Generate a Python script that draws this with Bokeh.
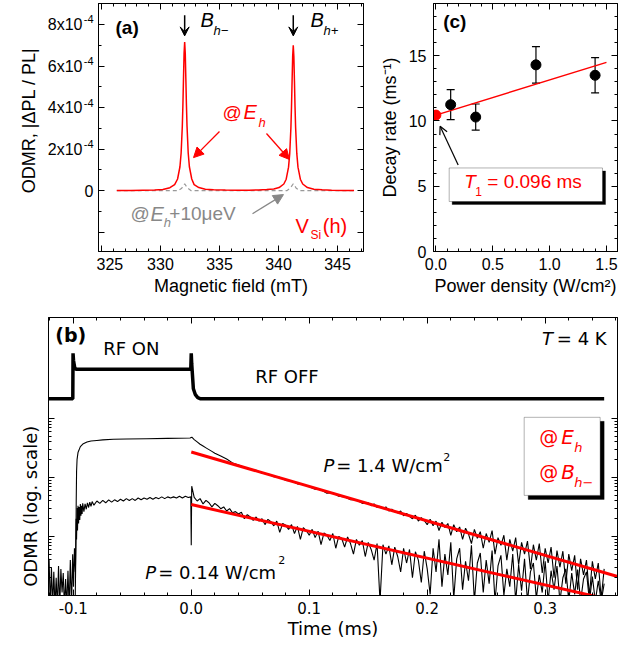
import numpy as np
from bokeh.plotting import figure
from bokeh.layouts import column, row
from bokeh.models import (Range1d, LinearAxis, FixedTicker, Label, Arrow, NormalHead,
                          OpenHead, VeeHead, TeeHead, Whisker, ColumnDataSource,
                          BoxAnnotation, PrintfTickFormatter, CustomJSTickFormatter)
from bokeh.embed import file_html
from bokeh.resources import INLINE

# ---------------- data: panel (a) ODMR spectrum (units of 1e-4) ----------------
field_mT = [326.3, 327.5, 328.5, 329.5, 330.2, 330.8, 331.2, 331.45, 331.65, 331.75, 331.85,
            331.9, 331.95, 332.0, 332.05, 332.1, 332.15, 332.2, 332.25, 332.35, 332.45, 332.65,
            332.85, 333.25, 333.8, 334.5, 335.5, 336.5, 337.5, 338.3, 339.0, 339.6, 340.05,
            340.45, 340.65, 340.85, 340.95, 341.05, 341.1, 341.15, 341.2, 341.25, 341.3, 341.35,
            341.4, 341.45, 341.55, 341.65, 341.85, 342.05, 342.45, 343.0, 343.7, 344.5, 345.5, 346.4]
odmr_Eh = [0.01, 0.01, 0.02, 0.03, 0.06, 0.14, 0.29, 0.56, 1.15, 1.81, 3.10,
           4.12, 5.39, 6.61, 7.15, 6.61, 5.39, 4.12, 3.10, 1.81, 1.15, 0.56,
           0.29, 0.15, 0.07, 0.04, 0.025, 0.02, 0.02, 0.03, 0.05, 0.08, 0.15,
           0.32, 0.55, 1.13, 1.78, 3.03, 4.03, 5.28, 6.47, 7.00, 6.47, 5.28,
           4.03, 3.03, 1.78, 1.13, 0.55, 0.32, 0.15, 0.07, 0.04, 0.02, 0.01, 0.01]
field_off_mT = [326.3, 331.5, 331.8, 332.05, 332.3, 332.6, 340.7, 341.0, 341.25, 341.5, 341.8, 346.4]
odmr_Eh10 = [0.0, 0.0, 0.12, 0.33, 0.12, 0.0, 0.0, 0.12, 0.33, 0.12, 0.0, 0.0]
a_ytick_vals = [0, 2, 4, 6, 8]
resonances_mT = [332.05, 341.25]

# ---------------- data: panel (c) decay rate vs power ----------------
power = [0.13, 0.35, 0.88, 1.40]
rate = [11.25, 10.3, 14.3, 13.5]
rate_err = [1.15, 1.0, 1.4, 1.35]
power0 = [0.0]
rate0 = [10.45]
fit_power = [0.0, 1.5]
fit_rate = [10.45, 14.49]

# ---------------- data: panel (b) time traces (log10 of ODMR, arb.) ----------------
rf_t = [-0.121, -0.1004, -0.1002, -0.0998, -0.0988, -0.0978, -0.05, -0.0004, 0.0, 0.0004,
        0.0018, 0.0035, 0.0055, 0.008, 0.35]
rf_y = [3.33, 3.33, 4.10, 3.98, 3.86, 3.83, 3.83, 3.83, 4.10, 3.92, 3.50, 3.40, 3.35, 3.33, 3.33]

hi_t = [-0.0985, -0.0978, -0.0975, -0.0972, -0.0968, -0.096, -0.094, -0.0915, -0.0884, -0.085,
        -0.08, -0.075, -0.066, -0.055, -0.0375, -0.02, -0.001, 0.0005, 0.0025, 0.005, 0.0075,
        0.010, 0.0125, 0.015, 0.0175, 0.020, 0.025, 0.030, 0.035, 0.040, 0.045, 0.050,
        0.055, 0.060, 0.065, 0.070, 0.075, 0.080, 0.085, 0.090, 0.095, 0.100, 0.105, 0.110,
        0.115, 0.120, 0.125, 0.130, 0.135, 0.140, 0.145, 0.150]
hi_y = [-0.3, 0.8, 1.6, 2.1, 2.3, 2.42, 2.52, 2.57, 2.60, 2.615, 2.625, 2.635, 2.645, 2.65,
        2.655, 2.66, 2.667, 2.68, 2.64, 2.60, 2.56, 2.53, 2.50, 2.47, 2.44, 2.41, 2.36, 2.31,
        2.245, 2.21, 2.17, 2.14, 2.12, 2.07, 2.06, 2.01, 2.00, 1.95, 1.94, 1.89, 1.88, 1.84,
        1.80, 1.79, 1.73, 1.74, 1.68, 1.67, 1.62, 1.62, 1.56, 1.57]
hi_tail_start = 0.1525
hi_tail_step = 0.0025
hi_tail_y = [1.52, 1.55, 1.49, 1.51, 1.47, 1.50, 1.43, 1.46, 1.42, 1.40, 1.43, 1.35, 1.39, 1.34,
             1.30, 1.36, 1.26, 1.32, 1.27, 1.20, 1.29, 1.18, 1.26, 1.10, 1.24, 1.15, 1.22, 1.02,
             1.20, 1.08, 1.16, 0.95, 1.14, 1.04, 0.88, 1.12, 0.97, 1.08, 0.80, 1.05, 0.90, 1.10,
             0.70, 0.98, 0.85, 1.02, 0.60, 0.95, 0.75, 0.98, 0.52, 0.90, 0.70, 0.92, 0.45, 0.86,
             0.60, 0.88, 0.38, 0.80, 0.55, 0.82, 0.30, 0.76, 0.48, 0.75, 0.20, 0.70, 0.42, 0.68,
             0.10, 0.62, 0.35, 0.60, 0.00, 0.58, 0.28, 0.55, -0.05, 0.45]

lo_pre_t = [-0.1205, -0.1195, -0.1185, -0.1175, -0.1165, -0.1155, -0.1145, -0.1135, -0.1125,
            -0.1115, -0.1105, -0.1095, -0.1085, -0.1075, -0.1065, -0.1055, -0.1045, -0.1035,
            -0.1025, -0.1015, -0.1005, -0.0998, -0.0990, -0.0982, -0.0976, -0.0972, -0.0968,
            -0.0964, -0.0960, -0.0955, -0.0950, -0.0945, -0.0940, -0.0935, -0.0930, -0.0925,
            -0.0920, -0.0910, -0.0900, -0.0890, -0.0880, -0.0870, -0.0860, -0.0850, -0.0840,
            -0.0825, -0.0800, -0.0775, -0.0750, -0.0725, -0.0700, -0.0675, -0.0650, -0.0625,
            -0.0600, -0.0575, -0.0550, -0.0525, -0.0500, -0.0475, -0.0450, -0.0425, -0.0400,
            -0.0375, -0.0350, -0.0325, -0.0300, -0.0275, -0.0250, -0.0225, -0.0200, -0.0175,
            -0.0150, -0.0125, -0.0100, -0.0075, -0.0050, -0.0025, -0.0004, 0.0, 0.0004]
lo_pre_y = [0.62, -0.2, 0.48, -0.2, 0.40, -0.2, 0.30, -0.2, 0.50, -0.2, 0.45, 0.05, 0.38, -0.2,
            0.28, -0.2, 0.42, -0.2, 0.60, -0.2, 0.70, 0.15, 0.80, 0.40, 1.30, 0.95, 1.48, 1.10,
            1.52, 1.22, 1.50, 1.28, 1.55, 1.35, 1.52, 1.38, 1.56, 1.42, 1.55, 1.46, 1.57, 1.49,
            1.58, 1.51, 1.59, 1.53, 1.60, 1.56, 1.61, 1.57, 1.62, 1.58, 1.62, 1.59, 1.63, 1.60,
            1.64, 1.61, 1.64, 1.61, 1.65, 1.62, 1.65, 1.63, 1.66, 1.63, 1.66, 1.64, 1.67, 1.64,
            1.67, 1.65, 1.67, 1.65, 1.68, 1.65, 1.68, 1.66, 1.67, 0.85, 1.85]
lo_tail_start = 0.0025
lo_tail_step = 0.0025
lo_tail_y = [1.66, 1.60, 1.64, 1.55, 1.61, 1.57, 1.50, 1.56, 1.52, 1.47, 1.50, 1.43, 1.47, 1.40,
             1.42, 1.38, 1.41, 1.30, 1.37, 1.33, 1.27, 1.33, 1.26, 1.30, 1.20, 1.29, 1.25, 1.18,
             1.26, 1.07, 1.22, 1.19, 1.12, 1.20, 1.05, 1.17, 0.95, 1.15, 1.10, 1.02, 1.12, 0.98,
             1.09, 0.86, 1.06, 1.02, 0.93, 1.05, 0.80, 1.00, 0.97, 0.82, 0.99, 0.88, 0.70, 0.95,
             0.85, 0.93, 0.66, 0.90, 0.78, 0.60, 0.88, -0.10, 0.86, 0.70, 0.84, 0.52, 0.82, 0.66,
             0.40, 0.80, 0.55, 0.78, 0.30, 0.74, 0.60, 0.22, 0.75, 0.45, 0.02, 0.80, 0.40, 0.95,
             0.15, 0.70, 0.35, 0.90, -0.05, 0.62, 0.80, 0.10, 0.58, 0.25, 0.85, -0.10, 0.55, 0.72,
             0.05, 0.60, 0.20, 0.76, -0.10, 0.50, 0.68, 0.00, 0.45, 0.15, 0.70, -0.10, 0.52, 0.08,
             0.62, -0.10, 0.40, 0.55, -0.05, 0.35, 0.05, 0.58, -0.10, 0.42, 0.10, 0.50, -0.10,
             0.30, 0.45, -0.10, 0.38, 0.02, 0.44, -0.10, 0.28, 0.40, -0.10, 0.32, -0.10, 0.25,
             -0.10, 0.20]
fit_t = [0.0, 0.3613]
fit_hi = [2.43, 0.322]
fit_lo = [1.54, -0.10]

FA = "Liberation Sans"
FB = "DejaVu Sans"
EMPTY = CustomJSTickFormatter(code="return ''")


def frame_style(p):
    p.xgrid.visible = False
    p.ygrid.visible = False
    p.outline_line_color = "black"
    p.outline_line_width = 1
    p.background_fill_color = "white"
    p.border_fill_color = "white"


def style_axis(ax, font, tsize, maj=6, mnr=3, labels=True):
    ax.major_tick_in = maj
    ax.major_tick_out = 0
    ax.minor_tick_in = mnr
    ax.minor_tick_out = 0
    ax.axis_line_color = "black"
    ax.major_tick_line_color = "black"
    ax.minor_tick_line_color = "black"
    ax.major_label_text_font = font
    ax.major_label_text_font_size = tsize
    ax.major_label_text_color = "black"
    ax.axis_label_text_font = font
    ax.axis_label_text_font_style = "normal"
    ax.axis_label_text_color = "black"
    if not labels:
        ax.formatter = CustomJSTickFormatter(code="return ''")
        ax.major_label_text_font_size = "0px"
        ax.major_label_standoff = 0


def mirror(p, xt, xm, yt, ym, font):
    top = LinearAxis(ticker=FixedTicker(ticks=xt, minor_ticks=xm))
    style_axis(top, font, "0px", labels=False)
    p.add_layout(top, "above")
    right = LinearAxis(ticker=FixedTicker(ticks=yt, minor_ticks=ym))
    style_axis(right, font, "0px", labels=False)
    p.add_layout(right, "right")


def lab(p, x, y, text, size, font, color="black", style="normal", align="left",
        baseline="middle", angle=0.0, xo=0, yo=0):
    p.add_layout(Label(x=x, y=y, text=text, text_font=font, text_font_size=f"{size}px",
                       text_color=color, text_font_style=style, text_align=align,
                       text_baseline=baseline, angle=angle, x_offset=xo, y_offset=yo))


def side(width, height, yr, top, bottom):
    s = figure(width=width, height=height, x_range=Range1d(0, width), y_range=Range1d(*yr),
               min_border_left=0, min_border_right=0, min_border_top=top, min_border_bottom=bottom,
               output_backend="svg", toolbar_location=None)
    s.axis.visible = False
    s.xgrid.visible = False
    s.ygrid.visible = False
    s.outline_line_color = None
    return s


TOP_H = 305
A_YR = (-2.93, 9.01)

# =============================== panel (a) ===============================
pa_lab = side(96, TOP_H, A_YR, 3, 54)
pa = figure(width=279, height=TOP_H, x_range=Range1d(324.75, 347.2), y_range=Range1d(*A_YR),
            min_border_left=2, min_border_right=12, min_border_top=3, min_border_bottom=54,
            output_backend="svg", toolbar_location=None)
frame_style(pa)
ax_xt = [325, 330, 335, 340, 345]
ax_xm = list(range(325, 348))
ax_yt = [-2, 0, 2, 4, 6, 8]
ax_ym = list(range(-2, 10))
pa.xaxis[0].ticker = FixedTicker(ticks=ax_xt, minor_ticks=ax_xm)
pa.yaxis[0].ticker = FixedTicker(ticks=ax_yt, minor_ticks=ax_ym)
style_axis(pa.xaxis[0], FA, "16px")
pa.xaxis[0].major_label_standoff = 6
pa.xaxis[0].axis_label = "Magnetic field (mT)"
pa.xaxis[0].axis_label_text_font_size = "18px"
pa.xaxis[0].axis_label_standoff = 3
style_axis(pa.yaxis[0], FA, "0px", labels=False)
mirror(pa, ax_xt, ax_xm, ax_yt, ax_ym, FA)

pa.line(field_off_mT, odmr_Eh10, line_color="#999999", line_width=1.2, line_dash="4 3")
pa.line(field_mT, odmr_Eh, line_color="#ff0000", line_width=1.5)

for v in a_ytick_vals:
    if v == 0:
        lab(pa_lab, 93, v, "0", 16, FA, align="right")
    else:
        lab(pa_lab, 82, v, f"{v}x10", 16, FA, align="right")
        lab(pa_lab, 93, v, "-4", 11, FA, align="right", yo=5)
lab(pa_lab, 28, 3.38, "ODMR, |ΔPL / PL|", 18, FA, align="center", angle=np.pi / 2)

for xr in resonances_mT:
    pa.add_layout(Arrow(x_start=xr, y_start=8.45, x_end=xr, y_end=7.45,
                        end=VeeHead(size=9, fill_color="black", line_color="black"),
                        line_color="black", line_width=1.5))
lab(pa, 326.19, 7.87, "(a)", 19, FA, style="bold")
lab(pa, 333.39, 8.21, "B", 20, FA, style="italic")
lab(pa, 334.49, 7.70, "h−", 13, FA, style="italic")
lab(pa, 342.71, 8.21, "B", 20, FA, style="italic")
lab(pa, 343.81, 7.70, "h+", 13, FA, style="italic")

pa.add_layout(Arrow(x_start=335.0, y_start=2.85, x_end=332.8, y_end=1.59,
                    end=NormalHead(size=10, fill_color="#ff0000", line_color="#ff0000"),
                    line_color="#ff0000", line_width=1.3))
pa.add_layout(Arrow(x_start=338.98, y_start=2.75, x_end=340.93, y_end=1.50,
                    end=NormalHead(size=10, fill_color="#ff0000", line_color="#ff0000"),
                    line_color="#ff0000", line_width=1.3))
pa.add_layout(Arrow(x_start=337.8, y_start=-1.11, x_end=340.42, y_end=-0.19,
                    end=NormalHead(size=10, fill_color="#888888", line_color="#888888"),
                    line_color="#888888", line_width=1.3))
lab(pa, 335.25, 3.77, "@", 19, FA, color="#ff0000")
lab(pa, 337.03, 3.77, "E", 20, FA, color="#ff0000", style="italic")
lab(pa, 338.3, 3.30, "h", 13, FA, color="#ff0000", style="italic")
lab(pa, 327.46, -1.11, "@", 19, FA, color="#888888")
lab(pa, 329.15, -1.11, "E", 20, FA, color="#888888", style="italic")
lab(pa, 330.28, -1.53, "h", 13, FA, color="#888888", style="italic")
lab(pa, 330.75, -1.11, "+10μeV", 19, FA, color="#888888")
lab(pa, 341.44, -1.69, "V", 20, FA, color="#ff0000")
lab(pa, 342.71, -2.12, "Si", 12, FA, color="#ff0000")
lab(pa, 343.75, -1.69, "(h)", 20, FA, color="#ff0000")

# =============================== panel (c) ===============================
pc = figure(width=258, height=TOP_H, x_range=Range1d(-0.021, 1.597), y_range=Range1d(0, 19.0),
            min_border_left=58, min_border_right=16, min_border_top=3, min_border_bottom=54,
            output_backend="svg", toolbar_location=None)
frame_style(pc)
c_xt = [0.0, 0.5, 1.0, 1.5]
c_xm = [round(0.1 * i, 1) for i in range(0, 16)]
c_yt = [0, 5, 10, 15]
c_ym = list(range(0, 19))
pc.xaxis[0].ticker = FixedTicker(ticks=c_xt, minor_ticks=c_xm)
pc.yaxis[0].ticker = FixedTicker(ticks=c_yt, minor_ticks=c_ym)
style_axis(pc.xaxis[0], FA, "16px")
pc.xaxis[0].formatter = PrintfTickFormatter(format="%.1f")
pc.xaxis[0].major_label_standoff = 6
pc.xaxis[0].axis_label = "Power density (W/cm²)"
pc.xaxis[0].axis_label_text_font_size = "18px"
pc.xaxis[0].axis_label_standoff = 3
style_axis(pc.yaxis[0], FA, "16px")
pc.yaxis[0].major_label_standoff = 7
pc.yaxis[0].axis_label = "Decay rate (ms⁻¹)"
pc.yaxis[0].axis_label_text_font_size = "18px"
pc.yaxis[0].axis_label_standoff = 6
mirror(pc, c_xt, c_xm, c_yt, c_ym, FA)

pc.line(fit_power, fit_rate, line_color="#ff0000", line_width=1.5)
src_c = ColumnDataSource(dict(x=power, y=rate,
                              lo=[r - e for r, e in zip(rate, rate_err)],
                              hi=[r + e for r, e in zip(rate, rate_err)]))
pc.add_layout(Whisker(base="x", upper="hi", lower="lo", source=src_c, line_color="black",
                      line_width=1.2,
                      upper_head=TeeHead(size=8, line_color="black", line_width=1.2),
                      lower_head=TeeHead(size=8, line_color="black", line_width=1.2)))
pc.scatter(power, rate, size=10, color="black")
pc.scatter(power0, rate0, size=10, color="#ff0000")

pc.add_layout(BoxAnnotation(left=0.143, right=1.492, top=6.17, bottom=3.60, fill_color="black",
                            fill_alpha=1, line_color="black"))
pc.add_layout(BoxAnnotation(left=0.117, right=1.465, top=6.40, bottom=3.83, fill_color="white",
                            fill_alpha=1, line_color="black", line_width=1))
pc.add_layout(Arrow(x_start=0.196, y_start=6.63, x_end=0.037, y_end=9.6,
                    end=OpenHead(size=8, line_color="black", line_width=1.2),
                    line_color="black", line_width=1.2))
lab(pc, 0.064, 17.65, "(c)", 19, FA, style="bold")
lab(pc, 0.249, 5.37, "T", 19, FA, color="#ff0000", style="italic")
lab(pc, 0.346, 4.57, "1", 12, FA, color="#ff0000")
lab(pc, 0.452, 5.37, "= 0.096 ms", 19, FA, color="#ff0000")

# =============================== panel (b) ===============================
B_H = 340
B_YR = (0, 4.707)
pb_lab = side(46, B_H, B_YR, 12, 50)
pb = figure(width=587, height=B_H, x_range=Range1d(-0.121, 0.3613), y_range=Range1d(*B_YR),
            min_border_left=2, min_border_right=16, min_border_top=12, min_border_bottom=50,
            output_backend="svg", toolbar_location=None)
frame_style(pb)
b_xt = [-0.1, 0.0, 0.1, 0.2, 0.3]
b_xm = [round(-0.12 + 0.02 * i, 2) for i in range(0, 25)]
b_yt = [0, 1, 2, 3]
b_ym = [round(d + np.log10(k), 4) for d in range(0, 3) for k in range(2, 10)]
pb.xaxis[0].ticker = FixedTicker(ticks=b_xt, minor_ticks=b_xm)
pb.yaxis[0].ticker = FixedTicker(ticks=b_yt, minor_ticks=b_ym)
style_axis(pb.xaxis[0], FB, "15px")
pb.xaxis[0].formatter = PrintfTickFormatter(format="%.1f")
pb.xaxis[0].major_label_standoff = 6
pb.xaxis[0].axis_label = "Time (ms)"
pb.xaxis[0].axis_label_text_font_size = "18px"
pb.xaxis[0].axis_label_standoff = 1
style_axis(pb.yaxis[0], FB, "0px", labels=False)
mirror(pb, b_xt, b_xm, b_yt, b_ym, FB)

lo_t = lo_pre_t + [lo_tail_start + lo_tail_step * i for i in range(len(lo_tail_y))]
lo_y = lo_pre_y + lo_tail_y
hi_all_t = hi_t + [hi_tail_start + hi_tail_step * i for i in range(len(hi_tail_y))]
hi_all_y = hi_y + hi_tail_y

pb.line(rf_t, rf_y, line_color="black", line_width=3.5)
pb.line(lo_t, lo_y, line_color="black", line_width=1.1)
pb.line(hi_all_t, hi_all_y, line_color="black", line_width=1.1)
pb.line(fit_t, fit_hi, line_color="#ff0000", line_width=3)
pb.line(fit_t, fit_lo, line_color="#ff0000", line_width=3)

lab(pb_lab, 30, 1.51, "ODMR (log. scale)", 18, FB, align="center", angle=np.pi / 2)
lab(pb, -0.1153, 4.407, "(b)", 19, FB, style="bold")
lab(pb, -0.0746, 4.181, "RF ON", 18, FB)
lab(pb, 0.0542, 3.700, "RF OFF", 18, FB)
lab(pb, 0.2972, 4.351, "T", 18, FB, style="italic")
lab(pb, 0.3099, 4.351, "= 4 K", 18, FB)
lab(pb, 0.1121, 2.203, "P", 18, FB, style="italic")
lab(pb, 0.1229, 2.203, "= 1.4 W/cm", 18, FB)
lab(pb, 0.2136, 2.347, "2", 11, FB)
lab(pb, -0.039, 0.395, "P", 18, FB, style="italic")
lab(pb, -0.028, 0.395, "= 0.14 W/cm", 18, FB)
lab(pb, 0.0737, 0.602, "2", 11, FB)

pb.add_layout(BoxAnnotation(left=0.2856, right=0.3500, top=2.949, bottom=1.627, fill_color="black",
                            fill_alpha=1, line_color="black"))
pb.add_layout(BoxAnnotation(left=0.2822, right=0.3466, top=3.017, bottom=1.695, fill_color="white",
                            fill_alpha=1, line_color="black", line_width=1))
lab(pb, 0.2949, 2.678, "@", 19, FB, color="#ff0000")
lab(pb, 0.3136, 2.678, "E", 20, FB, color="#ff0000", style="italic")
lab(pb, 0.3246, 2.50, "h", 13, FB, color="#ff0000", style="italic")
lab(pb, 0.2949, 2.085, "@", 19, FB, color="#ff0000")
lab(pb, 0.3136, 2.085, "B", 20, FB, color="#ff0000", style="italic")
lab(pb, 0.3246, 1.907, "h−", 13, FB, color="#ff0000", style="italic")

layout = column(row(pa_lab, pa, pc), row(pb_lab, pb))
open("out.html", "w").write(file_html(layout, INLINE))
